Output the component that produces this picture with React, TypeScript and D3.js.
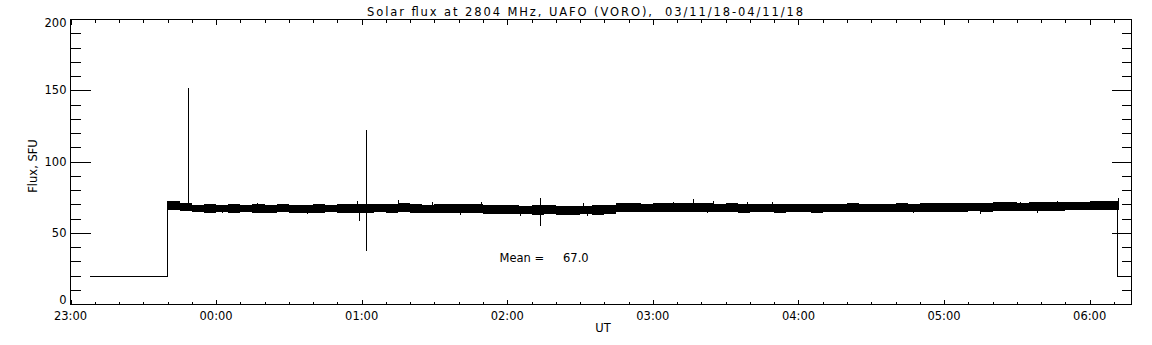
import * as d3 from 'd3';

// Chart text
const title = 'Solar flux at 2804 MHz, UAFO (VORO),  03/11/18-04/11/18';
const xTitle = 'UT';
const yTitle = 'Flux, SFU';
const meanLabel = 'Mean =';
const meanValue = '67.0';

// Axis range (UT, night of 03/11/18 -> 04/11/18)
const axisStart = '23:00';
const axisEnd = '06:17:15';
const yTicks = [0, 50, 100, 150, 200];

// Receiver band, envelope read every 5 min from 23:40 to 06:10 (SFU)
const bandStart = '23:40';
const bandEnd = '06:11:40';
const bandUpper = [
    72.5, 71.0, 70.0, 70.3, 70.0, 70.5, 70.0, 70.2, 69.8, 70.5,
    70.0, 69.8, 70.2, 70.0, 70.4, 70.6, 70.8, 70.3, 70.5, 71.0,
    70.2, 70.0, 70.3, 70.4, 70.2, 70.6, 69.8, 69.5, 69.6, 69.2,
    69.5, 69.8, 69.3, 69.0, 69.4, 69.6, 69.8, 71.0, 71.0, 70.8,
    71.0, 71.2, 71.0, 71.3, 71.0, 70.7, 70.9, 70.6, 70.8, 70.5,
    70.7, 70.6, 70.8, 70.5, 70.7, 70.6, 70.9, 70.7, 70.6, 70.8,
    71.0, 70.8, 71.0, 71.2, 71.0, 71.3, 71.5, 71.3, 71.6, 71.8,
    71.5, 71.9, 72.0, 71.8, 72.2, 72.0, 72.3, 72.5, 72.8
];
const bandLower = [
    66.5, 65.5, 64.8, 64.5, 64.7, 64.5, 64.8, 64.3, 64.5, 64.6,
    64.2, 64.5, 64.4, 64.6, 64.3, 64.5, 64.2, 64.6, 64.4, 64.8,
    64.3, 64.5, 64.0, 64.2, 64.1, 64.0, 63.8, 63.5, 63.2, 63.4,
    63.0, 63.3, 62.8, 63.0, 63.2, 63.1, 63.4, 65.2, 65.0, 64.8,
    65.0, 64.9, 65.1, 65.0, 64.7, 64.6, 64.8, 64.5, 64.6, 64.7,
    64.5, 64.6, 64.7, 64.5, 64.6, 64.8, 64.6, 64.9, 64.7, 64.8,
    64.9, 65.0, 64.8, 65.0, 65.1, 65.2, 65.3, 65.1, 65.4, 65.5,
    65.6, 65.8, 65.7, 65.9, 66.0, 66.1, 66.2, 66.3, 66.5
];

// Small noise peaks and dips on the band edges
const whiskerTimes = [
    '00:16:55', '00:58:05', '01:14:55', '01:29:00', '01:49:10', '02:31:10', '03:08:20',
    '03:24:40', '03:38:40', '03:49:00', '05:12:40', '05:31:20', '05:46:30', '06:01:00',
    '00:02:30', '00:37:30', '01:40:30', '02:05:10', '02:32:50', '03:22:20', '03:53:35',
    '04:47:10', '05:14:50', '05:38:20'
];
const whiskerValues = [
    71.3, 72.5, 73.0, 71.8, 71.8, 71.3, 72.0, 72.3, 72.0, 71.8, 71.3, 72.0, 72.3, 72.8,
    63.9, 63.4, 62.5, 62.0, 62.0, 63.9, 63.9, 63.9, 63.4, 64.2
];

// Isolated spikes
const spikeTimes = ['23:48:20', '00:59:05', '01:01:40', '02:13:40', '03:16:35', '06:11:40'];
const spikeLow = [66.0, 58.7, 37.5, 55.1, 66.0, 66.5];
const spikeHigh = [152.0, 68.0, 122.5, 74.4, 74.0, 74.4];

// Idle level before and after observing
const idleLeftTimes = ['23:08', '23:40', '23:40'];
const idleLeftValues = [20, 20, 72.5];
const idleRightTimes = ['06:11:40', '06:11:40', '06:17:15'];
const idleRightValues = [72.8, 20, 20];

function toDate(s: string): Date {
    const [h, m, sec] = s.split(':').map(Number);
    const day = h >= 12 ? 3 : 4;
    return new Date(Date.UTC(2018, 10, day, h, m, sec || 0));
}

const W = 1152;
const H = 345;
const left = 70.5, right = 1131.5, top = 19.5, bottom = 304.5;
const font = '"DejaVu Sans", sans-serif';
const fs = 11.5;

export default function App() {
    const x = d3.scaleUtc().domain([toDate(axisStart), toDate(axisEnd)]).range([left, right]);
    const y = d3.scaleLinear().domain([0, 200]).range([bottom, top]);

    const majorX = d3.utcHour.range(toDate(axisStart), toDate(axisEnd));
    const minorX = d3.utcMinute.every(10)!.range(toDate(axisStart), toDate(axisEnd)).filter(d => d.getUTCMinutes() !== 0);
    const minorY = d3.range(0, 201, 10).filter(v => v % 50 !== 0);
    const fmt = d3.utcFormat('%H:%M');

    const bandTimes = d3.utcMinute.every(5)!.range(toDate(bandStart), toDate(bandEnd));
    const band = bandTimes.map((t, i) => ({ t, hi: bandUpper[i], lo: bandLower[i] }));
    band.push({ t: toDate(bandEnd), hi: bandUpper[bandUpper.length - 1], lo: bandLower[bandLower.length - 1] });

    const area = d3.area<{ t: Date, hi: number, lo: number }>()
        .x(d => x(d.t))
        .y0(d => y(d.lo))
        .y1(d => y(d.hi))
        .curve(d3.curveStepAfter);

    const line = d3.line<[Date, number]>().x(d => x(d[0])).y(d => y(d[1]));
    const idleLeft = idleLeftTimes.map((t, i) => [toDate(t), idleLeftValues[i]] as [Date, number]);
    const idleRight = idleRightTimes.map((t, i) => [toDate(t), idleRightValues[i]] as [Date, number]);

    const yLabelBase = (v: number) => Math.min(Math.max(y(v) + 3.7, 27), 304.3);
    const px = (d: Date) => Math.round(x(d)) + 0.5;

    return (
        <svg width={W} height={H} style={{ position: 'absolute', left: 0, top: 0, background: '#fff' }}
            fontFamily={font} fontSize={fs}>
            <rect x={0} y={0} width={W} height={H} fill="#fff" />

            {/* data */}
            <path d={area(band)!} fill="#000" shapeRendering="crispEdges" />
            <path d={line(idleLeft)!} fill="none" stroke="#000" strokeWidth={1} shapeRendering="crispEdges" />
            <path d={line(idleRight)!} fill="none" stroke="#000" strokeWidth={1} shapeRendering="crispEdges" />
            {whiskerTimes.map((t, i) => (
                <line key={'w' + i} x1={px(toDate(t))} x2={px(toDate(t))} y1={y(67)} y2={y(whiskerValues[i])}
                    stroke="#000" strokeWidth={1} shapeRendering="crispEdges" />
            ))}
            {spikeTimes.map((t, i) => (
                <line key={'s' + i} x1={px(toDate(t))} x2={px(toDate(t))} y1={y(spikeLow[i])} y2={y(spikeHigh[i])}
                    stroke="#000" strokeWidth={1} shapeRendering="crispEdges" />
            ))}

            {/* frame */}
            <rect x={left} y={top} width={right - left} height={bottom - top} fill="none" stroke="#000"
                strokeWidth={1} shapeRendering="crispEdges" />

            {/* ticks */}
            <g stroke="#000" strokeWidth={1} shapeRendering="crispEdges">
                {majorX.map((d, i) => (
                    <g key={'mx' + i}>
                        <line x1={px(d)} x2={px(d)} y1={bottom} y2={bottom - 5} />
                        <line x1={px(d)} x2={px(d)} y1={top} y2={top + 5} />
                    </g>
                ))}
                {minorX.map((d, i) => (
                    <g key={'nx' + i}>
                        <line x1={px(d)} x2={px(d)} y1={bottom} y2={bottom - 3} />
                        <line x1={px(d)} x2={px(d)} y1={top} y2={top + 3} />
                    </g>
                ))}
                {yTicks.map((v, i) => (
                    <g key={'my' + i}>
                        <line x1={left} x2={left + 20} y1={y(v)} y2={y(v)} />
                        <line x1={right} x2={right - 20} y1={y(v)} y2={y(v)} />
                    </g>
                ))}
                {minorY.map((v, i) => (
                    <g key={'ny' + i}>
                        <line x1={left} x2={left + 10} y1={y(v)} y2={y(v)} />
                        <line x1={right} x2={right - 10} y1={y(v)} y2={y(v)} />
                    </g>
                ))}
            </g>

            {/* tick labels */}
            {majorX.map((d, i) => (
                <text key={'lx' + i} x={x(d)} y={320} textAnchor="middle">{fmt(d)}</text>
            ))}
            {yTicks.map((v, i) => (
                <text key={'ly' + i} x={66.5} y={yLabelBase(v)} textAnchor="end">{v}</text>
            ))}

            {/* titles */}
            <text x={367} y={16} textLength={436} lengthAdjust="spacing" style={{ whiteSpace: 'pre' }}>{title}</text>
            <text x={603} y={332} textAnchor="middle">{xTitle}</text>
            <text transform="translate(37,166) rotate(-90)" textAnchor="middle">{yTitle}</text>
            <text x={499.5} y={262.3}>{meanLabel}</text>
            <text x={563} y={262.3}>{meanValue}</text>
        </svg>
    );
}
